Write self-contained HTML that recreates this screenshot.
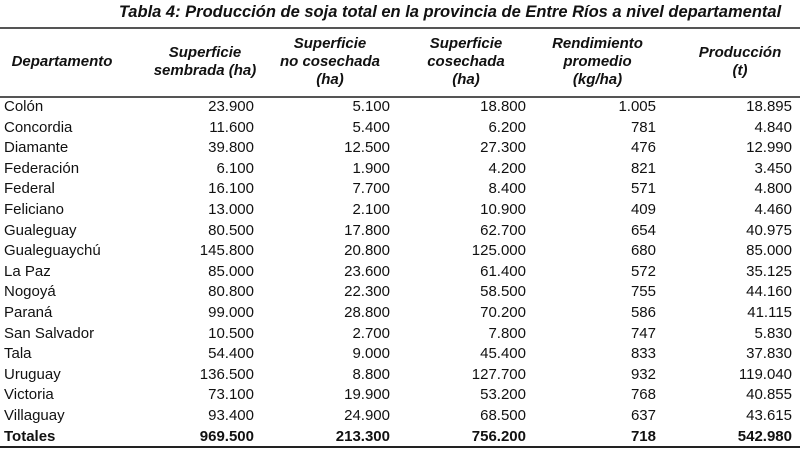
<!DOCTYPE html>
<html><head><meta charset="utf-8"><style>
body{margin:0;width:800px;height:449px;background:#fff;font-family:"Liberation Sans",Arial,sans-serif;color:#111;position:relative;overflow:hidden}
.t{position:absolute;left:100px;width:700px;top:3px;text-align:center;font-weight:bold;font-style:italic;font-size:16.5px;white-space:nowrap}
.line{position:absolute;left:0;width:800px;height:2px;background:#555}
.h{position:absolute;font-weight:bold;font-style:italic;font-size:15px;text-align:center;line-height:18px;white-space:nowrap}
.r{position:absolute;left:0;width:800px;height:20px;font-size:15px;line-height:20px}
.r span{position:absolute}
.r .d{left:4px}
.c1{right:546px}.c2{right:410px}.c3{right:274px}.c4{right:144px}.c5{right:8px}
.b{font-weight:bold}
</style></head><body>
<div class="t">Tabla 4: Producción de soja total en la provincia de Entre Ríos a nivel departamental</div>
<div class="line" style="top:27px"></div>
<div class="h" style="left:2px;width:120px;top:53px">Departamento</div>
<div class="h" style="left:140px;width:130px;top:44px">Superficie<br>sembrada (ha)</div>
<div class="h" style="left:270px;width:120px;top:35px">Superficie<br>no cosechada<br>(ha)</div>
<div class="h" style="left:406px;width:120px;top:35px">Superficie<br>cosechada<br>(ha)</div>
<div class="h" style="left:535px;width:125px;top:35px">Rendimiento<br>promedio<br>(kg/ha)</div>
<div class="h" style="left:680px;width:120px;top:44px">Producción<br>(t)</div>
<div class="line" style="top:96px"></div>
<div class="r" style="top:97px"><span class="d">Colón</span><span class="c1">23.900</span><span class="c2">5.100</span><span class="c3">18.800</span><span class="c4">1.005</span><span class="c5">18.895</span></div>
<div class="r" style="top:117.6px"><span class="d">Concordia</span><span class="c1">11.600</span><span class="c2">5.400</span><span class="c3">6.200</span><span class="c4">781</span><span class="c5">4.840</span></div>
<div class="r" style="top:138.2px"><span class="d">Diamante</span><span class="c1">39.800</span><span class="c2">12.500</span><span class="c3">27.300</span><span class="c4">476</span><span class="c5">12.990</span></div>
<div class="r" style="top:158.8px"><span class="d">Federación</span><span class="c1">6.100</span><span class="c2">1.900</span><span class="c3">4.200</span><span class="c4">821</span><span class="c5">3.450</span></div>
<div class="r" style="top:179.4px"><span class="d">Federal</span><span class="c1">16.100</span><span class="c2">7.700</span><span class="c3">8.400</span><span class="c4">571</span><span class="c5">4.800</span></div>
<div class="r" style="top:200px"><span class="d">Feliciano</span><span class="c1">13.000</span><span class="c2">2.100</span><span class="c3">10.900</span><span class="c4">409</span><span class="c5">4.460</span></div>
<div class="r" style="top:220.6px"><span class="d">Gualeguay</span><span class="c1">80.500</span><span class="c2">17.800</span><span class="c3">62.700</span><span class="c4">654</span><span class="c5">40.975</span></div>
<div class="r" style="top:241.2px"><span class="d">Gualeguaychú</span><span class="c1">145.800</span><span class="c2">20.800</span><span class="c3">125.000</span><span class="c4">680</span><span class="c5">85.000</span></div>
<div class="r" style="top:261.8px"><span class="d">La Paz</span><span class="c1">85.000</span><span class="c2">23.600</span><span class="c3">61.400</span><span class="c4">572</span><span class="c5">35.125</span></div>
<div class="r" style="top:282.4px"><span class="d">Nogoyá</span><span class="c1">80.800</span><span class="c2">22.300</span><span class="c3">58.500</span><span class="c4">755</span><span class="c5">44.160</span></div>
<div class="r" style="top:303px"><span class="d">Paraná</span><span class="c1">99.000</span><span class="c2">28.800</span><span class="c3">70.200</span><span class="c4">586</span><span class="c5">41.115</span></div>
<div class="r" style="top:323.6px"><span class="d">San Salvador</span><span class="c1">10.500</span><span class="c2">2.700</span><span class="c3">7.800</span><span class="c4">747</span><span class="c5">5.830</span></div>
<div class="r" style="top:344.2px"><span class="d">Tala</span><span class="c1">54.400</span><span class="c2">9.000</span><span class="c3">45.400</span><span class="c4">833</span><span class="c5">37.830</span></div>
<div class="r" style="top:364.8px"><span class="d">Uruguay</span><span class="c1">136.500</span><span class="c2">8.800</span><span class="c3">127.700</span><span class="c4">932</span><span class="c5">119.040</span></div>
<div class="r" style="top:385.4px"><span class="d">Victoria</span><span class="c1">73.100</span><span class="c2">19.900</span><span class="c3">53.200</span><span class="c4">768</span><span class="c5">40.855</span></div>
<div class="r" style="top:406px"><span class="d">Villaguay</span><span class="c1">93.400</span><span class="c2">24.900</span><span class="c3">68.500</span><span class="c4">637</span><span class="c5">43.615</span></div>
<div class="r b" style="top:426.6px"><span class="d">Totales</span><span class="c1">969.500</span><span class="c2">213.300</span><span class="c3">756.200</span><span class="c4">718</span><span class="c5">542.980</span></div>
<div class="line" style="top:446px;background:#222"></div>
</body></html>
